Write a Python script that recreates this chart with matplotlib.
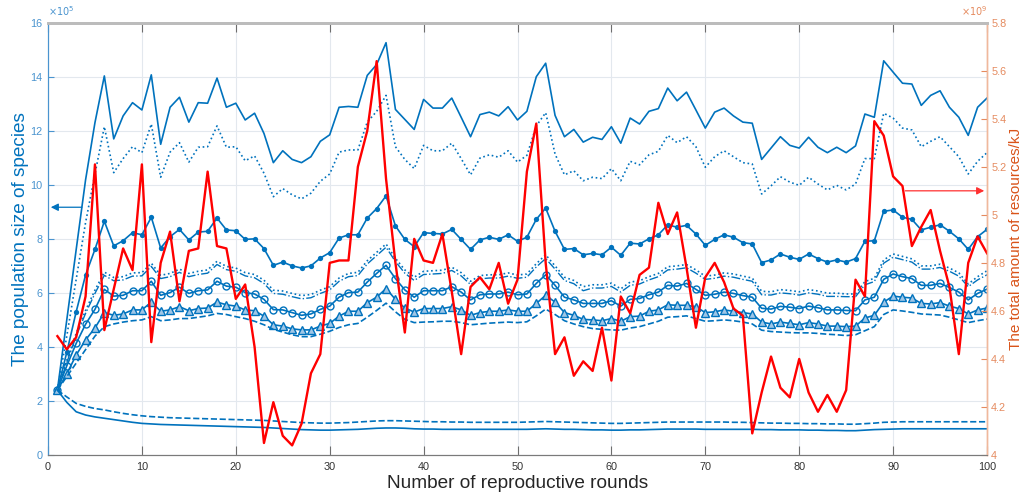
import numpy as np
import matplotlib
matplotlib.use('Agg')
import matplotlib.pyplot as plt

####################################################################################

FIGURE_XSIZE = 10.23
FIGURE_YSIZE = 4.98

BLUE_RGB = '#0072BD'
BLUE_TICK_RGB = '#4a94cf'
ORANGE_RGB = '#D95319'
ORANGE_TICK_RGB = '#e58a5e'
RED_RGB = '#ff0000'
GRID_RGB = '#e3e8ee'

plt.rcParams['font.family'] = ['Liberation Sans', 'DejaVu Sans']

####################################################################################
# data (population in units of 10^5, resources in units of 10^9)

rounds = list(range(1, 101))

pop_max = [2.4, 5.0, 7.6, 10.18, 12.3, 14.03, 11.7, 12.55, 13.04, 12.77,
           14.07, 11.5, 12.87, 13.24, 12.32, 13.04, 13.02, 13.95, 12.87, 13.02,
           12.4, 12.65, 11.9, 10.82, 11.26, 10.94, 10.82, 11.04, 11.61, 11.85,
           12.87, 12.9, 12.87, 14.05, 14.45, 15.26, 12.79, 12.42, 12.05, 13.16,
           12.84, 12.84, 13.21, 12.5, 11.78, 12.6, 12.69, 12.55, 12.89, 12.4,
           12.72, 14.0, 14.5, 12.57, 11.78, 12.05, 11.58, 11.76, 11.68, 12.15,
           11.54, 12.47, 12.25, 12.72, 12.82, 13.58, 13.11, 13.43, 12.77, 12.1,
           12.69, 12.84, 12.55, 12.32, 12.28, 10.94, 11.36, 11.78, 11.46, 11.36,
           11.76, 11.39, 11.19, 11.39, 11.19, 11.44, 12.62, 12.5, 14.59, 14.17,
           13.76, 13.73, 12.94, 13.31, 13.48, 12.87, 12.5, 11.83, 12.87, 13.21]

pop_upper = [2.4, 4.4, 6.5, 8.6, 10.4, 12.15, 10.45, 10.97, 11.41, 11.19,
             12.25, 10.28, 11.21, 11.56, 10.84, 11.39, 11.41, 12.18, 11.39, 11.41,
             10.89, 11.07, 10.43, 9.56, 9.86, 9.63, 9.48, 9.69, 10.13, 10.4,
             11.21, 11.29, 11.29, 12.32, 12.72, 13.31, 11.41, 10.94, 10.6, 11.46,
             11.26, 11.26, 11.54, 10.97, 10.37, 10.99, 11.11, 11.02, 11.26, 10.84,
             11.09, 12.18, 12.67, 11.14, 10.37, 10.52, 10.15, 10.28, 10.23, 10.6,
             10.15, 10.87, 10.74, 11.11, 11.24, 11.83, 11.56, 11.78, 11.41, 10.65,
             11.04, 11.26, 11.04, 10.82, 10.77, 9.66, 9.96, 10.3, 10.1, 9.98,
             10.28, 10.03, 9.81, 9.98, 9.81, 10.03, 10.97, 10.97, 12.65, 12.47,
             12.1, 12.03, 11.41, 11.61, 11.78, 11.41, 11.04, 10.4, 10.87, 11.19]

pop_dot = [2.4, 3.8, 5.3, 6.66, 7.61, 8.65, 7.74, 7.93, 8.23, 8.15,
           8.8, 7.66, 8.08, 8.35, 7.96, 8.25, 8.28, 8.77, 8.33, 8.3,
           7.98, 8.0, 7.64, 7.02, 7.14, 7.0, 6.92, 7.0, 7.29, 7.49,
           8.03, 8.15, 8.15, 8.77, 9.12, 9.59, 8.48, 7.98, 7.71, 8.23,
           8.2, 8.18, 8.35, 7.98, 7.61, 7.96, 8.06, 7.98, 8.15, 7.91,
           8.06, 8.72, 9.14, 8.28, 7.61, 7.64, 7.41, 7.46, 7.41, 7.69,
           7.39, 7.84, 7.81, 8.0, 8.15, 8.52, 8.43, 8.5, 8.18, 7.76,
           7.98, 8.15, 8.06, 7.86, 7.81, 7.12, 7.22, 7.44, 7.32, 7.24,
           7.44, 7.27, 7.14, 7.22, 7.14, 7.27, 7.91, 7.93, 9.02, 9.07,
           8.8, 8.72, 8.33, 8.43, 8.52, 8.28, 8.0, 7.61, 8.08, 8.35]

pop_mid1 = [2.4, 3.5, 4.5, 5.35, 6.1, 6.77, 6.57, 6.6, 6.74, 6.75,
            7.1, 6.65, 6.72, 6.88, 6.72, 6.8, 6.85, 7.17, 6.98, 6.92,
            6.75, 6.68, 6.47, 6.1, 6.07, 5.98, 5.9, 5.94, 6.1, 6.23,
            6.55, 6.72, 6.76, 7.19, 7.5, 7.81, 7.28, 6.85, 6.58, 6.8,
            6.82, 6.84, 6.95, 6.75, 6.43, 6.64, 6.67, 6.67, 6.74, 6.66,
            6.7, 7.08, 7.41, 7.0, 6.58, 6.46, 6.23, 6.3, 6.3, 6.36,
            6.15, 6.4, 6.45, 6.6, 6.72, 6.97, 7.0, 7.05, 6.85, 6.62,
            6.66, 6.74, 6.7, 6.62, 6.55, 6.06, 6.04, 6.12, 6.09, 6.04,
            6.12, 6.07, 5.99, 5.99, 5.96, 5.96, 6.42, 6.54, 7.22, 7.44,
            7.35, 7.26, 7.0, 7.0, 7.06, 6.92, 6.74, 6.33, 6.6, 6.82]

pop_mid2 = [2.4, 3.42, 4.4, 5.24, 5.98, 6.65, 6.45, 6.48, 6.62, 6.63,
            6.98, 6.53, 6.6, 6.76, 6.6, 6.68, 6.73, 7.05, 6.86, 6.8,
            6.63, 6.56, 6.35, 5.98, 5.95, 5.86, 5.78, 5.82, 5.98, 6.11,
            6.43, 6.6, 6.64, 7.07, 7.38, 7.69, 7.16, 6.73, 6.46, 6.68,
            6.7, 6.72, 6.83, 6.63, 6.31, 6.52, 6.55, 6.55, 6.62, 6.54,
            6.58, 6.96, 7.27, 6.88, 6.46, 6.34, 6.08, 6.18, 6.18, 6.24,
            6.03, 6.28, 6.33, 6.48, 6.6, 6.85, 6.88, 6.93, 6.73, 6.5,
            6.54, 6.62, 6.58, 6.5, 6.43, 5.93, 5.92, 6.0, 5.97, 5.92,
            6.0, 5.95, 5.87, 5.87, 5.86, 5.86, 6.3, 6.42, 7.1, 7.32,
            7.23, 7.14, 6.88, 6.88, 6.94, 6.8, 6.62, 6.23, 6.48, 6.67]

pop_circle = [2.4, 3.3, 4.13, 4.84, 5.39, 6.13, 5.88, 5.91, 6.08, 6.08,
              6.43, 5.91, 6.01, 6.21, 5.98, 6.08, 6.11, 6.43, 6.25, 6.21,
              6.01, 5.96, 5.76, 5.38, 5.37, 5.27, 5.17, 5.22, 5.39, 5.51,
              5.84, 6.01, 6.03, 6.4, 6.72, 7.02, 6.53, 6.11, 5.84, 6.08,
              6.08, 6.08, 6.23, 6.03, 5.74, 5.93, 5.96, 5.96, 6.03, 5.93,
              5.96, 6.35, 6.67, 6.28, 5.84, 5.74, 5.61, 5.61, 5.61, 5.71,
              5.51, 5.76, 5.79, 5.93, 6.03, 6.28, 6.25, 6.35, 6.13, 5.91,
              5.95, 6.03, 5.98, 5.9, 5.84, 5.43, 5.4, 5.5, 5.47, 5.42,
              5.51, 5.45, 5.37, 5.37, 5.35, 5.34, 5.74, 5.84, 6.5, 6.7,
              6.6, 6.53, 6.28, 6.28, 6.35, 6.2, 6.03, 5.74, 5.98, 6.14]

pop_triangle = [2.4, 3.0, 3.7, 4.26, 4.7, 5.27, 5.17, 5.22, 5.37, 5.37,
                5.66, 5.32, 5.37, 5.49, 5.34, 5.42, 5.44, 5.66, 5.56, 5.51,
                5.37, 5.34, 5.14, 4.82, 4.77, 4.67, 4.63, 4.63, 4.77, 4.87,
                5.14, 5.32, 5.32, 5.64, 5.84, 6.16, 5.76, 5.44, 5.29, 5.42,
                5.42, 5.42, 5.49, 5.37, 5.17, 5.27, 5.32, 5.32, 5.37, 5.32,
                5.32, 5.61, 5.91, 5.66, 5.27, 5.17, 5.02, 5.0, 4.97, 5.05,
                4.95, 5.12, 5.14, 5.32, 5.37, 5.56, 5.54, 5.54, 5.49, 5.27,
                5.3, 5.37, 5.32, 5.27, 5.22, 4.92, 4.85, 4.92, 4.87, 4.82,
                4.9, 4.85, 4.77, 4.77, 4.75, 4.77, 5.07, 5.17, 5.66, 5.88,
                5.84, 5.81, 5.61, 5.59, 5.64, 5.51, 5.42, 5.22, 5.37, 5.44]

pop_dashed = [2.4, 2.9, 3.4, 3.9, 4.4, 4.75, 4.85, 4.92, 4.97, 5.0,
              5.12, 4.97, 5.0, 5.05, 5.05, 5.1, 5.15, 5.24, 5.2, 5.12,
              5.05, 4.95, 4.82, 4.65, 4.55, 4.45, 4.38, 4.38, 4.47, 4.58,
              4.72, 4.82, 4.87, 5.1, 5.35, 5.62, 5.3, 5.02, 4.9, 4.92,
              4.93, 4.95, 4.95, 4.9, 4.82, 4.85, 4.88, 4.9, 4.92, 4.9,
              4.93, 5.15, 5.4, 5.2, 4.97, 4.85, 4.75, 4.68, 4.65, 4.63,
              4.62, 4.7, 4.75, 4.85, 4.95, 5.1, 5.12, 5.15, 5.05, 4.95,
              4.97, 5.0, 4.97, 4.92, 4.85, 4.62, 4.57, 4.55, 4.53, 4.52,
              4.52, 4.5, 4.47, 4.45, 4.42, 4.45, 4.6, 4.75, 5.2, 5.37,
              5.33, 5.28, 5.22, 5.2, 5.18, 5.1, 5.0, 4.9, 4.97, 5.03]

pop_low_dashed = [2.4, 2.15, 1.91, 1.8, 1.72, 1.67, 1.6, 1.54, 1.49, 1.45,
                  1.42, 1.4, 1.38, 1.37, 1.36, 1.35, 1.34, 1.33, 1.32, 1.31,
                  1.3, 1.29, 1.28, 1.26, 1.24, 1.22, 1.2, 1.19, 1.18, 1.18,
                  1.19, 1.2, 1.22, 1.24, 1.26, 1.27, 1.27, 1.26, 1.25, 1.24,
                  1.23, 1.23, 1.22, 1.22, 1.21, 1.21, 1.21, 1.21, 1.21, 1.21,
                  1.22, 1.23, 1.24, 1.23, 1.22, 1.21, 1.2, 1.19, 1.18, 1.17,
                  1.17, 1.18, 1.19, 1.2, 1.21, 1.22, 1.22, 1.22, 1.22, 1.22,
                  1.22, 1.22, 1.21, 1.21, 1.2, 1.19, 1.18, 1.18, 1.17, 1.17,
                  1.16, 1.16, 1.15, 1.15, 1.14, 1.14, 1.16, 1.18, 1.21, 1.22,
                  1.23, 1.23, 1.23, 1.23, 1.23, 1.23, 1.23, 1.23, 1.23, 1.23]

pop_low_solid = [2.4, 1.95, 1.6, 1.48, 1.41, 1.36, 1.31, 1.26, 1.21, 1.17,
                 1.15, 1.13, 1.12, 1.11, 1.1, 1.09, 1.08, 1.07, 1.06, 1.05,
                 1.04, 1.03, 1.02, 1.0, 0.98, 0.96, 0.94, 0.93, 0.92, 0.92,
                 0.93, 0.94, 0.95, 0.97, 0.99, 1.0, 1.0, 0.99, 0.97, 0.96,
                 0.96, 0.95, 0.95, 0.95, 0.95, 0.95, 0.95, 0.95, 0.95, 0.95,
                 0.95, 0.96, 0.97, 0.96, 0.95, 0.95, 0.94, 0.93, 0.93, 0.92,
                 0.92, 0.93, 0.93, 0.94, 0.95, 0.96, 0.96, 0.96, 0.96, 0.95,
                 0.95, 0.95, 0.95, 0.95, 0.95, 0.94, 0.94, 0.93, 0.93, 0.93,
                 0.92, 0.92, 0.91, 0.91, 0.9, 0.9, 0.92, 0.94, 0.95, 0.96,
                 0.97, 0.97, 0.97, 0.97, 0.97, 0.97, 0.97, 0.97, 0.97, 0.97]

resources = [4.495, 4.44, 4.49, 4.66, 5.21, 4.52, 4.69, 4.86, 4.77, 5.21,
             4.47, 4.8, 4.93, 4.64, 4.85, 4.86, 5.18, 4.87, 4.86, 4.65,
             4.71, 4.45, 4.05, 4.22, 4.08, 4.04, 4.13, 4.34, 4.42, 4.8,
             4.81, 4.81, 5.2, 5.35, 5.64, 5.15, 4.8, 4.51, 4.9, 4.81,
             4.8, 4.92, 4.68, 4.42, 4.7, 4.74, 4.69, 4.8, 4.63, 4.73,
             5.18, 5.38, 4.8, 4.42, 4.49, 4.33, 4.39, 4.35, 4.53, 4.31,
             4.66, 4.59, 4.75, 4.78, 5.05, 4.92, 5.01, 4.78, 4.53, 4.74,
             4.8, 4.72, 4.61, 4.58, 4.09, 4.26, 4.41, 4.28, 4.24, 4.4,
             4.26, 4.18, 4.25, 4.18, 4.27, 4.73, 4.66, 5.39, 5.33, 5.16,
             5.12, 4.87, 4.95, 5.02, 4.85, 4.7, 4.42, 4.8, 4.91, 4.84]

x_ticks = list(range(0, 101, 10))
left_ticks = list(range(0, 17, 2))
right_ticks = [4, 4.2, 4.4, 4.6, 4.8, 5, 5.2, 5.4, 5.6, 5.8]

####################################################################################

def fmt(v):
    return ('%g' % v)

def plot_chart():
    figure = plt.figure(figsize=(FIGURE_XSIZE, FIGURE_YSIZE), dpi=100, facecolor='white')
    axes = figure.add_axes([48 / 1023, 43 / 498, 939 / 1023, 432.3 / 498])
    axes2 = axes.twinx()

    # blue population curves
    axes.plot(rounds, pop_max, '-', color=BLUE_RGB, lw=1.2)
    axes.plot(rounds, pop_upper, ':', color=BLUE_RGB, lw=1.2)
    axes.plot(rounds, pop_dot, '-', color=BLUE_RGB, lw=1.2,
              marker='o', markersize=3.8, markerfacecolor=BLUE_RGB, markeredgewidth=0)
    axes.plot(rounds, pop_mid1, ':', color=BLUE_RGB, lw=1.2)
    axes.plot(rounds, pop_mid2, '-.', color=BLUE_RGB, lw=1.0)
    axes.plot(rounds, pop_circle, '-', color=BLUE_RGB, lw=1.2,
              marker='o', markersize=5, markerfacecolor='none', markeredgewidth=1.0)
    axes.plot(rounds, pop_triangle, '-', color=BLUE_RGB, lw=1.2,
              marker='^', markersize=5.3, markerfacecolor='#9fc6e6', markeredgewidth=1.0)
    axes.plot(rounds, pop_dashed, '--', color=BLUE_RGB, lw=1.2)
    axes.plot(rounds, pop_low_dashed, '--', color=BLUE_RGB, lw=1.2)
    axes.plot(rounds, pop_low_solid, '-', color=BLUE_RGB, lw=1.2)

    # red resources curve on the right axis
    axes2.plot(rounds, resources, '-', color=RED_RGB, lw=1.7)

    axes.set_xlim(0, 100)
    axes.set_ylim(0, 16)
    axes2.set_ylim(4, 5.8)

    axes.set_xticks(x_ticks)
    axes.set_xticklabels([str(v) for v in x_ticks])
    axes.set_yticks(left_ticks)
    axes.set_yticklabels([str(v) for v in left_ticks])
    axes2.set_yticks(right_ticks)
    axes2.set_yticklabels([fmt(v) for v in right_ticks])

    axes.grid(True, color=GRID_RGB, lw=0.8)
    axes.set_axisbelow(True)

    axes.tick_params(axis='x', which='both', direction='in', length=6.5, width=0.8,
                     top=True, color='#6e6e6e', labelsize=7.8, labelcolor='#333333', pad=5)
    axes.tick_params(axis='y', direction='in', length=4, width=0.8,
                     color=BLUE_TICK_RGB, labelsize=7.8, labelcolor=BLUE_TICK_RGB, pad=4)
    axes2.tick_params(axis='y', direction='in', length=4, width=0.8,
                      color=ORANGE_TICK_RGB, labelsize=7.8, labelcolor=ORANGE_TICK_RGB, pad=3)

    for ax in (axes, axes2):
        ax.spines['top'].set_color('#bcbcbc')
        ax.spines['top'].set_linewidth(2.0)
        ax.spines['bottom'].set_color('#7a7a7a')
        ax.spines['bottom'].set_linewidth(0.8)
        ax.spines['left'].set_color(BLUE_TICK_RGB)
        ax.spines['left'].set_linewidth(0.8)
        ax.spines['right'].set_color('#f0b89c')
        ax.spines['right'].set_linewidth(1.0)

    axes.set_xlabel('Number of reproductive rounds', fontsize=13.7, color='#262626', labelpad=2)
    figure.text(21 / 1023, 0.52, 'The population size of species', rotation=90,
                ha='center', va='center', fontsize=13.7, color=BLUE_RGB)
    # right label sits against the figure edge, kept just inside it
    figure.text(1022.5 / 1023, 0.52, 'The total amount of resources/kJ', rotation=90,
                ha='right', va='center', fontsize=11, color=ORANGE_RGB)

    axes.text(0.0, 1.012, r'$\times10^5$', transform=axes.transAxes, fontsize=7,
              color=BLUE_TICK_RGB, ha='left', va='bottom')
    axes2.text(1.0, 1.012, r'$\times10^9$', transform=axes2.transAxes, fontsize=7,
               color=ORANGE_TICK_RGB, ha='right', va='bottom')

    # arrows pointing to each axis
    axes.annotate('', xy=(0, 9.17), xytext=(3.9, 9.17),
                  arrowprops=dict(arrowstyle='-|>', color=BLUE_RGB, lw=0.9, mutation_scale=11),
                  annotation_clip=False)
    axes2.annotate('', xy=(100, 5.10), xytext=(91, 5.10),
                   arrowprops=dict(arrowstyle='-|>', color='#ff3030', lw=0.9, mutation_scale=11),
                   annotation_clip=False)

    plt.savefig('out.png', dpi=100, facecolor='white')

####################################################################################

plot_chart()
